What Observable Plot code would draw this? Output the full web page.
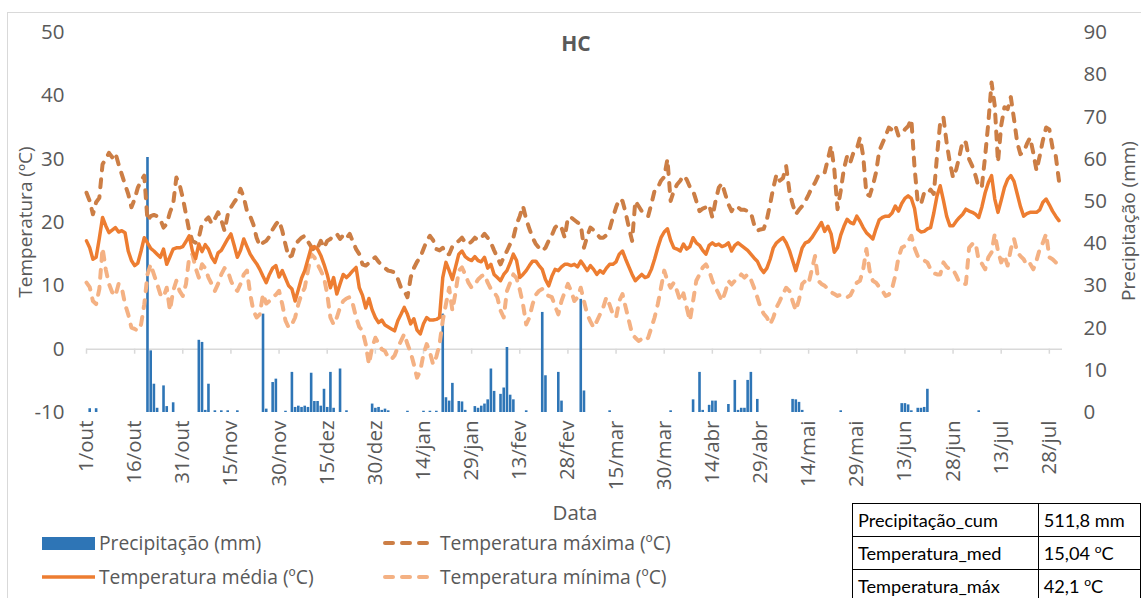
<!DOCTYPE html>
<html>
<head>
<meta charset="utf-8">
<script src="https://cdn.jsdelivr.net/npm/d3@7"></script>
<script src="https://cdn.jsdelivr.net/npm/@observablehq/plot@0.6"></script>
<style>
  body { margin: 0; background: #fff; font-family: "Open Sans", sans-serif; color: #595959; }
  #wrap { position: relative; width: 1141px; height: 598px; overflow: hidden; }
  #frame { position: absolute; left: 7px; top: 12px; width: 1300px; height: 800px; border: 1px solid #d9d9d9; box-sizing: border-box; }
  #chart { position: absolute; left: 0; top: 0; }
  .title { position: absolute; left: 476px; width: 200px; top: 29px; text-align: center; font-weight: bold; font-size: 21px; color: #595959; }
  .ylab { position: absolute; font-size: 19px; white-space: nowrap; transform: translate(-50%, -50%) rotate(-90deg); }
  .xlab { position: absolute; font-size: 20.5px; transform: translate(-50%, -50%); }
  .leg { position: absolute; font-size: 19.3px; display: flex; align-items: center; white-space: nowrap; }
  .leg svg { margin-right: 3px; }
  table.stats { position: absolute; left: 852px; top: 503px; border-collapse: collapse; font-family: Lato, sans-serif; font-size: 18.2px; color: #000; }
  table.stats td { border: 1px solid #000; height: 32px; padding: 0 5px; white-space: nowrap; }
  sup { font-size: 12px; }
</style>
</head>
<body>
<div id="wrap">
  <div id="frame"></div>
  <div id="chart"></div>
  <div class="title">HC</div>
  <div class="ylab" style="left:25px; top:222px;">Temperatura (ºC)</div>
  <div class="ylab" style="left:1128px; top:221px;">Precipitação (mm)</div>
  <div class="xlab" style="left:575px; top:512px;">Data</div>
  <div id="legend"></div>
  <table class="stats">
    <tr><td style="width:177px">Precipitação_cum</td><td style="width:92px">511,8 mm</td></tr>
    <tr><td>Temperatura_med</td><td>15,04 <sup>o</sup>C</td></tr>
    <tr><td>Temperatura_máx</td><td>42,1 <sup>o</sup>C</td></tr>
  </table>
</div>
<script>
// Daily series, 1 Oct to 31 Jul (index 0 = 1/out)
const tmed = [
  17.1, 16.0, 14.2, 14.5, 17.5, 20.8, 19.5, 18.4, 18.8, 19.2,
  18.5, 18.7, 18.4, 15.5, 14.0, 13.2, 13.6, 15.5, 17.6, 16.8,
  15.9, 15.5, 15.0, 14.5, 15.8, 13.4, 14.6, 15.8, 16.0, 16.0,
  16.2, 17.0, 17.9, 15.5, 14.3, 16.6, 15.4, 16.5, 15.8, 14.5,
  13.7, 15.2, 15.6, 16.5, 17.4, 18.2, 16.4, 14.5, 15.6, 17.4,
  16.2, 15.0, 14.2, 13.5, 12.6, 11.5, 10.5, 11.8, 12.8, 13.2,
  11.4, 12.4, 11.2, 10.0, 9.5, 7.6, 9.4, 11.2, 12.4, 14.2,
  16.0, 16.2, 15.8, 14.8, 13.4, 11.8, 9.7, 11.3, 8.7, 10.3,
  11.8, 11.3, 11.8, 12.4, 12.9, 9.7, 8.5, 6.5, 8.0, 6.2,
  5.0, 4.2, 4.6, 3.8, 3.5, 3.2, 2.9, 4.5, 5.5, 6.6,
  5.5, 4.0, 4.8, 3.0, 2.4, 4.0, 5.0, 4.6, 4.6, 4.7,
  5.0, 11.3, 13.7, 12.4, 11.0, 13.0, 15.0, 15.5, 14.6, 14.2,
  14.0, 14.6, 14.0, 13.8, 14.5, 12.8, 13.4, 11.8, 11.3, 10.8,
  11.8, 12.4, 13.6, 15.0, 14.0, 11.3, 11.8, 12.4, 13.2, 13.9,
  13.9, 13.2, 12.6, 11.0, 10.0, 11.5, 12.6, 12.4, 13.0, 13.4,
  13.4, 13.2, 13.4, 13.0, 13.9, 13.2, 12.4, 13.2, 12.6, 11.8,
  12.4, 12.0, 12.8, 13.4, 13.4, 13.8, 15.0, 15.5, 14.2, 13.0,
  11.8, 10.8, 11.3, 11.8, 11.3, 11.5, 12.6, 14.2, 16.0, 17.6,
  18.5, 19.0, 17.2, 16.0, 15.8, 15.5, 16.6, 15.8, 16.2, 17.6,
  16.8, 16.4, 15.6, 15.0, 16.4, 16.8, 16.4, 16.6, 16.2, 16.4,
  16.8, 15.5, 16.4, 16.8, 16.4, 16.0, 15.6, 15.0, 14.4, 13.9,
  12.8, 12.1, 12.8, 14.2, 16.0, 16.8, 17.2, 17.6, 16.8, 15.6,
  14.0, 12.4, 14.2, 16.0, 16.8, 17.0, 17.6, 18.4, 19.2, 20.0,
  18.6, 19.4, 18.2, 15.3, 16.0, 18.0, 19.4, 20.5, 20.0, 19.8,
  21.0, 20.2, 19.2, 18.4, 17.9, 17.4, 19.0, 20.4, 20.8, 21.0,
  21.0, 21.5, 22.6, 21.8, 23.0, 23.8, 24.2, 23.8, 22.2, 18.9,
  18.5, 18.6, 19.0, 19.2, 21.5, 24.2, 25.8, 23.5, 21.0, 19.5,
  19.5, 20.2, 20.8, 21.3, 22.1, 21.8, 21.6, 21.3, 20.8, 22.5,
  24.7, 26.3, 27.4, 23.7, 21.6, 23.5, 25.5, 26.8, 27.4, 26.5,
  24.5, 22.5, 21.0, 21.4, 21.6, 21.6, 21.6, 22.0, 23.2, 23.7,
  22.8, 21.8, 21.0, 20.3
];

const tmax = [
  24.7, 23.4, 21.3, 23.2, 23.9, 29.2, 30.0, 31.0, 30.3, 31.0,
  29.2, 27.6, 26.0, 24.5, 22.4, 23.7, 25.5, 26.6, 27.4, 20.3,
  21.0, 21.2, 21.0, 20.5, 19.2, 19.8, 21.6, 22.9, 27.1, 26.0,
  23.9, 21.3, 18.7, 17.1, 16.8, 17.6, 19.8, 20.3, 20.8, 19.8,
  20.6, 21.6, 20.4, 18.7, 21.2, 22.4, 23.2, 23.9, 25.3, 24.0,
  21.8, 21.0, 19.7, 17.6, 16.3, 16.8, 17.1, 17.8, 18.9, 19.7,
  20.3, 18.7, 16.5, 14.5, 14.8, 16.5, 17.1, 17.6, 17.9, 17.0,
  16.2, 15.5, 16.0, 17.1, 16.0, 17.1, 17.4, 18.0, 18.2, 17.4,
  18.0, 17.5, 18.2, 17.0, 15.8, 15.0, 13.4, 13.2, 13.6, 14.2,
  14.5, 13.8, 13.2, 12.8, 12.4, 12.3, 12.1, 11.1, 9.7, 9.2,
  8.2, 11.3, 12.8, 13.8, 14.5, 15.8, 17.1, 17.9, 17.2, 15.8,
  15.6, 16.0, 15.0, 15.0, 16.2, 16.8, 17.1, 17.6, 16.8, 16.6,
  17.0, 17.6, 17.2, 17.6, 18.2, 17.6, 16.8, 15.6, 14.5, 13.4,
  14.5, 15.5, 16.6, 17.6, 19.7, 21.0, 22.6, 20.5, 19.0, 17.6,
  16.6, 16.0, 15.5, 16.0, 17.1, 18.0, 19.2, 19.7, 19.2, 17.6,
  20.8, 20.8, 20.4, 20.0, 19.7, 16.0, 17.8, 19.2, 18.8, 18.2,
  17.6, 17.6, 18.0, 19.0, 20.8, 22.4, 23.7, 23.4, 21.5, 19.2,
  17.1, 23.4, 22.6, 21.8, 21.2, 21.0, 22.9, 25.0, 25.5, 26.6,
  27.2, 30.0, 23.4, 25.0, 26.0, 26.6, 27.4, 26.8, 25.6, 25.0,
  23.4, 21.8, 22.2, 22.4, 22.8, 20.8, 23.4, 25.5, 26.2, 24.5,
  22.9, 21.8, 22.6, 22.4, 22.0, 22.0, 21.8, 21.6, 19.7, 18.7,
  18.9, 19.0, 20.5, 22.9, 25.5, 27.6, 26.6, 27.0, 28.9, 25.0,
  22.9, 21.3, 22.0, 22.6, 23.4, 24.4, 25.5, 26.3, 27.4, 27.4,
  27.9, 30.0, 32.1, 28.4, 22.1, 25.0, 28.5, 30.5, 29.5, 31.1,
  31.6, 33.4, 30.5, 24.5, 24.2, 25.8, 27.9, 31.3, 32.5, 33.7,
  35.0, 34.6, 35.3, 33.7, 34.0, 34.7, 35.2, 36.3, 28.7, 23.2,
  22.9, 24.7, 24.5, 25.2, 24.5, 30.5, 35.8, 36.6, 32.6, 29.5,
  27.1, 28.4, 30.5, 32.9, 32.6, 30.0, 28.9, 27.4, 25.5, 25.8,
  30.5, 35.8, 42.1, 38.4, 29.5, 35.3, 38.2, 37.9, 39.8, 36.3,
  32.6, 30.8, 31.1, 32.4, 33.4, 31.0, 28.2, 30.5, 33.0, 35.0,
  34.7, 31.8, 30.5, 26.6
];

const tmin = [
  10.5, 9.8, 7.6, 7.1, 9.5, 16.0, 12.6, 10.3, 9.0, 8.4,
  10.3, 9.7, 7.1, 5.5, 3.4, 3.2, 2.9, 3.9, 7.1, 11.8,
  13.4, 11.8, 10.3, 8.7, 8.2, 9.7, 6.1, 9.2, 10.8, 9.2,
  8.4, 10.3, 14.5, 15.0, 12.8, 11.3, 13.4, 12.8, 11.3, 10.3,
  9.2, 10.3, 11.8, 12.8, 12.4, 10.8, 9.7, 9.2, 10.3, 11.8,
  12.4, 8.7, 6.1, 5.0, 5.5, 8.7, 7.2, 7.6, 8.2, 8.6,
  9.2, 7.1, 4.5, 3.4, 3.9, 5.0, 7.1, 8.7, 9.7, 12.4,
  15.0, 14.5, 13.4, 12.4, 11.3, 8.7, 5.0, 3.9, 5.0, 6.6,
  7.6, 8.0, 8.2, 7.1, 5.0, 3.5, 2.9, 0.8, -2.4, 0.3,
  1.8, 0.9, 0.0, -0.3, -1.3, -1.6, -1.0, 0.3, 1.3, 2.4,
  0.8, -0.5, -2.4, -4.5, -3.4, -0.8, 0.8, -0.5, -2.4, -1.2,
  0.8, 4.5, 7.1, 9.7, 6.1, 9.0, 12.4, 12.9, 11.8, 10.5,
  9.7, 10.2, 11.0, 11.5, 11.8, 10.5, 9.5, 9.0, 8.2, 6.1,
  5.0, 9.2, 10.5, 11.8, 11.2, 9.4, 7.1, 3.9, 5.0, 7.1,
  8.6, 9.2, 9.5, 8.8, 8.4, 8.2, 6.8, 5.5, 7.6, 9.0,
  10.3, 9.2, 7.6, 8.2, 9.7, 7.6, 5.5, 4.4, 3.4, 4.4,
  5.5, 6.6, 8.2, 7.0, 5.5, 5.0, 7.6, 8.7, 6.6, 4.5,
  2.4, 1.8, 1.3, 1.6, 1.3, 1.8, 3.4, 5.0, 7.1, 9.7,
  12.4, 10.8, 9.7, 10.5, 9.2, 7.6, 8.8, 6.6, 4.5, 7.6,
  10.8, 11.8, 12.9, 13.4, 12.4, 10.8, 9.7, 8.7, 7.6, 9.0,
  10.8, 10.2, 10.8, 11.2, 11.8, 11.3, 11.8, 11.0, 9.7, 8.2,
  6.6, 5.6, 5.0, 3.9, 5.0, 6.6, 7.6, 8.7, 9.7, 9.2,
  7.6, 6.1, 7.8, 10.3, 10.8, 10.4, 12.6, 14.7, 10.8, 10.3,
  10.0, 9.5, 9.0, 8.7, 8.4, 8.6, 8.4, 8.2, 8.5, 9.5,
  10.5, 10.8, 12.6, 15.8, 12.4, 10.8, 10.5, 9.8, 9.2, 8.4,
  8.6, 9.6, 11.6, 14.5, 16.0, 16.3, 17.0, 17.9, 16.0, 14.7,
  14.5, 14.0, 13.7, 12.6, 12.0, 11.8, 11.8, 13.7, 13.0, 12.6,
  12.6, 11.6, 10.5, 10.3, 10.3, 16.0, 16.6, 16.8, 14.0, 13.5,
  12.6, 14.5, 15.3, 18.2, 15.5, 13.7, 14.8, 13.2, 15.8, 17.4,
  15.3, 14.7, 14.2, 13.2, 13.5, 12.6, 14.0, 15.8, 16.8, 18.2,
  14.5, 14.2, 13.7, 13.2
];

// Rainy days (day index from 1/out) and rainfall in mm
const rainDays = [
  1, 3,
  19, 20, 21, 22, 24, 25, 27,
  35, 36, 37, 38, 40, 42, 44, 47,
  55, 56, 58, 59, 62,
  64, 65, 66, 67, 68, 69, 70, 71, 72, 73, 74, 75, 76, 77, 79, 81,
  89, 90, 91, 92, 93, 94,
  100, 105, 107, 109,
  111, 112, 113, 114, 116, 117, 118,
  121, 122, 123, 124, 125, 126, 127,
  129, 130, 131, 132, 133,
  137, 142, 143, 147, 148,
  154, 155, 163, 182,
  189, 191, 192, 194, 195, 196,
  200, 202, 203, 204, 205, 206, 207, 209,
  220, 221, 222, 223,
  235,
  254, 255, 256, 257, 259, 260, 261, 262,
  278
];
const rainMm = [
  0.9, 0.9,
  60.4, 14.6, 6.7, 1.0, 6.3, 1.4, 2.3,
  17.1, 16.6, 0.5, 6.7, 0.4, 0.4, 0.4, 0.4,
  23.3, 0.8, 7.1, 7.9, 0.3,
  9.5, 1.2, 1.5, 1.2, 1.5, 1.2, 9.3, 2.6, 2.6, 1.5, 5.5, 1.2, 9.5, 1.0, 10.3, 0.4,
  2.0, 1.0, 1.2, 0.5, 0.8, 0.4,
  0.3, 0.3, 0.3, 0.3,
  23.3, 3.5, 2.7, 6.9, 2.6, 2.5, 0.5,
  1.4, 1.0, 1.5, 2.0, 3.0, 10.3, 5.0,
  4.3, 5.8, 15.4, 4.1, 3.0,
  0.4, 23.7, 8.7, 9.5, 2.7,
  26.8, 5.1, 0.4, 0.4,
  3.0, 9.5, 0.5, 1.7, 2.7, 2.7,
  1.9, 7.6, 0.5, 1.0, 1.0, 7.6, 9.5, 3.1,
  3.1, 3.0, 2.4, 0.5,
  0.4,
  2.1, 2.1, 1.8, 0.4, 1.0, 1.0, 1.2, 5.5,
  0.4
];

// Axis ticks
const tickDays = [0, 15, 30, 45, 60, 75, 90, 105, 120, 135, 150, 165, 180, 195, 210, 225, 240, 255, 270, 285, 300];
const tickLabels = ["1/out", "16/out", "31/out", "15/nov", "30/nov", "15/dez", "30/dez", "14/jan", "29/jan", "13/fev",
  "28/fev", "15/mar", "30/mar", "14/abr", "29/abr", "14/mai", "29/mai", "13/jun", "28/jun", "13/jul", "28/jul"];
const tempTicks = [-10, 0, 10, 20, 30, 40, 50];
const rainTicks = [0, 10, 20, 30, 40, 50, 60, 70, 80, 90];

// Series names and colours
const seriesNames = ["Precipitação (mm)", "Temperatura máxima (ºC)", "Temperatura média (ºC)", "Temperatura mínima (ºC)"];
const colors = { rain: "#2E75B6", tmax: "#CC7E45", tmed: "#ED7D31", tmin: "#F4B183" };

// Precipitation shares the temperature scale: 0–90 mm maps onto -10–50 ºC
const tempMin = -10, tempMax = 50, rainMax = 90;
const rainToT = mm => tempMin + mm * (tempMax - tempMin) / rainMax;
const tToRain = t => (t - tempMin) * rainMax / (tempMax - tempMin);

const rows = tmed.map((v, i) => ({ day: i, tmed: v, tmax: tmax[i], tmin: tmin[i] }));
const rain = rainDays.map((d, i) => ({ day: d, mm: rainMm[i] }));

const dash = "8,9";
const chart = Plot.plot({
  width: 1141,
  height: 598,
  marginLeft: 86,
  marginRight: 79,
  marginTop: 32,
  marginBottom: 186,
  style: { fontFamily: "Open Sans, sans-serif", fontSize: "20.5px", color: "#595959", background: "transparent", overflow: "visible" },
  x: { domain: [0, 304.1] },
  y: { domain: [tempMin, tempMax] },
  marks: [
    Plot.ruleY([0], { stroke: "#d9d9d9", strokeWidth: 1.5 }),
    Plot.ruleX(tickDays, { x: d => d, y1: 0, y2: -0.8, stroke: "#d9d9d9", strokeWidth: 1.5 }),
    Plot.ruleX(rain, { x: "day", y1: tempMin, y2: d => rainToT(d.mm), stroke: colors.rain, strokeWidth: 2.6 }),
    Plot.line(rows, { x: "day", y: "tmin", stroke: colors.tmin, strokeWidth: 4, strokeDasharray: dash, strokeLinecap: "round", strokeLinejoin: "round" }),
    Plot.line(rows, { x: "day", y: "tmax", stroke: colors.tmax, strokeWidth: 4, strokeDasharray: dash, strokeLinecap: "round", strokeLinejoin: "round" }),
    Plot.line(rows, { x: "day", y: "tmed", stroke: colors.tmed, strokeWidth: 3.5, strokeLinejoin: "round" }),
    Plot.axisY({ ticks: tempTicks, tickFormat: d => String(d), tickSize: 0, tickPadding: 22, label: null }),
    Plot.axisY({ anchor: "right", ticks: rainTicks.map(rainToT), tickFormat: t => String(Math.round(tToRain(t))), tickSize: 0, tickPadding: 21, label: null }),
    Plot.axisX({ ticks: tickDays, tickFormat: d => tickLabels[tickDays.indexOf(d)], tickRotate: -90, tickSize: 0, tickPadding: 8, label: null })
  ]
});
document.getElementById("chart").appendChild(chart);

// Legend
const legendItems = [
  { name: seriesNames[0], kind: "bar", color: colors.rain, left: 40, top: 543 },
  { name: seriesNames[1], kind: "dash", color: colors.tmax, left: 381, top: 543 },
  { name: seriesNames[2], kind: "solid", color: colors.tmed, left: 40, top: 577 },
  { name: seriesNames[3], kind: "dash", color: colors.tmin, left: 381, top: 577 }
];
const legend = document.getElementById("legend");
for (const item of legendItems) {
  const div = document.createElement("div");
  div.className = "leg";
  div.style.left = item.left + "px";
  div.style.top = (item.top - 14) + "px";
  let sw;
  if (item.kind === "bar") sw = `<rect x="2" y="7" width="53" height="13" fill="${item.color}"/>`;
  else if (item.kind === "solid") sw = `<line x1="2" y1="13" x2="55" y2="13" stroke="${item.color}" stroke-width="3.5"/>`;
  else sw = `<line x1="4" y1="13" x2="52" y2="13" stroke="${item.color}" stroke-width="4" stroke-dasharray="${dash}" stroke-linecap="round"/>`;
  div.innerHTML = `<svg width="56" height="26">${sw}</svg><span>${item.name}</span>`;
  legend.appendChild(div);
}
</script>
</body>
</html>
